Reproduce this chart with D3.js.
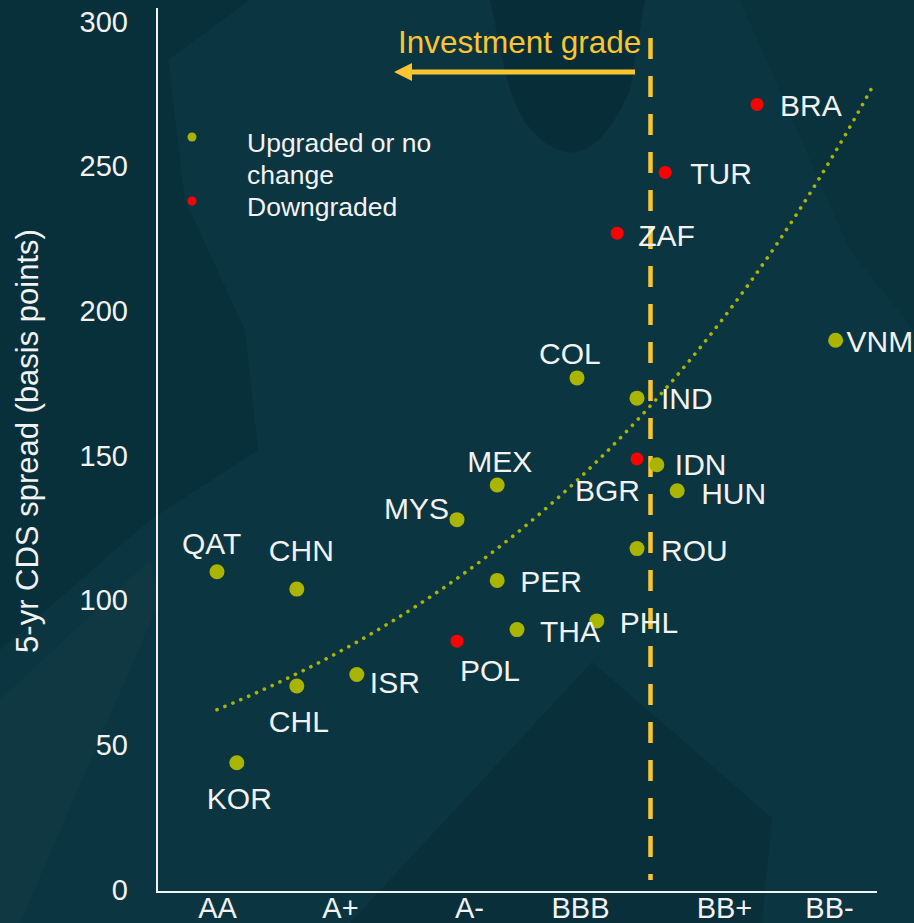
<!DOCTYPE html>
<html>
<head>
<meta charset="utf-8">
<script src="https://cdn.jsdelivr.net/npm/d3@7"></script>
<style>
  html, body { margin: 0; padding: 0; background: #0b3540; }
  svg { display: block; }
</style>
</head>
<body>
<div id="chart"></div>
<script>
// rating scale: 0 = AA, one unit per notch (points sit on thirds = agency averages)
var countries   = ['QAT', 'KOR', 'CHN', 'CHL', 'ISR', 'MYS', 'POL', 'MEX', 'PER', 'THA', 'COL',
                   'PHL', 'ZAF', 'IND', 'BGR', 'ROU', 'IDN', 'TUR', 'HUN', 'BRA', 'VNM'];
var ratingScore = [0, 0.33, 1.33, 1.33, 2.33, 4, 4, 4.67, 4.67, 5, 6,
                   6.33, 6.67, 7, 7, 7, 7.33, 7.47, 7.67, 9, 10.31];
var cdsSpread   = [110, 44, 104, 70.5, 74.5, 128, 86, 140, 107, 90, 177,
                   93, 227, 170, 149, 118, 147, 248, 138, 271.5, 190];
var downgraded  = [false, false, false, false, false, false, true, false, false, false, false,
                   false, true, false, true, false, false, true, false, true, false];

var ratingLabels = ['AA', 'A+', 'A-', 'BBB', 'BB+', 'BB-'];
var ratingTicks  = [0, 2.05, 4.2, 6.05, 8.45, 10.2];
var spreadTicks  = [0, 50, 100, 150, 200, 250, 300];

// exponential trendline: y = a * exp(b * x)
var trendA = 62.3, trendB = 0.1368, trendRange = [0, 10.95];
var igBoundary = 7.225; // BBB- / BB+ line

// label offsets (text start / baseline relative to the dot)
var labelOffset = {
    QAT: [-35, -18], KOR: [-30, 46], CHN: [-28, -28], CHL: [-28, 46], ISR: [13, 19],
    MYS: [-73, -1], POL: [3, 40], MEX: [-30, -13], PER: [23, 12], THA: [23, 12],
    COL: [-38, -14], PHL: [23, 12], ZAF: [21, 13], IND: [24, 11], BGR: [-62, 42],
    ROU: [24, 12], IDN: [18, 10], TUR: [25, 12], HUN: [24, 13], BRA: [23, 12], VNM: [11, 12]
};

var width = 914, height = 923;
var green = '#a9b500', red = '#ff0000', gold = '#fac52f', ink = '#f2f2f2';
var font = 'Liberation Sans, Arial, sans-serif';

var svg = d3.select('#chart').append('svg')
    .attr('width', width)
    .attr('height', height);

// background (faint brush shapes)
svg.append('rect').attr('width', width).attr('height', height).attr('fill', '#0b3540');
var bg = svg.append('g').attr('fill', '#001f27');
bg.append('path').attr('d', 'M0,0 L250,0 L168,60 L185,200 L245,330 L258,450 L150,520 L0,650 Z').attr('opacity', 0.22);
bg.append('path').attr('d', 'M490,0 L645,0 L630,90 Q600,158 565,152 Q520,140 505,70 Z').attr('opacity', 0.3);
bg.append('path').attr('d', 'M592,662 L350,923 L762,923 L772,818 Z').attr('opacity', 0.25);
bg.append('path').attr('d', 'M740,0 L914,0 L914,330 L850,250 Z').attr('opacity', 0.15);
bg.append('path').attr('d', 'M0,700 L150,560 L160,600 L20,923 L0,923 Z').attr('fill', '#ffffff').attr('opacity', 0.02);

var x = d3.scaleLinear().domain([-1, 11]).range([157, 877]);
var y = d3.scaleLinear().domain([0, 300]).range([890, 22]);

// y axis labels
var yAxis = svg.append('g')
    .attr('transform', 'translate(128,0)')
    .call(d3.axisLeft(y).tickValues(spreadTicks).tickSize(0).tickPadding(0));
yAxis.select('.domain').remove();
yAxis.selectAll('text')
    .attr('fill', ink)
    .style('font-family', font)
    .style('font-size', '29px');

// x axis labels
var xAxis = svg.append('g')
    .attr('transform', 'translate(0,897)')
    .call(d3.axisBottom(x).tickValues(ratingTicks).tickFormat(function (d, i) { return ratingLabels[i]; })
        .tickSize(0).tickPadding(0));
xAxis.select('.domain').remove();
xAxis.selectAll('text')
    .attr('fill', ink)
    .attr('dy', '0.71em')
    .style('font-family', font)
    .style('font-size', '29px');

// axis lines
svg.append('line').attr('x1', 157).attr('x2', 157).attr('y1', 8).attr('y2', 892)
    .attr('stroke', ink).attr('stroke-width', 2);
svg.append('line').attr('x1', 156).attr('x2', x.range()[1]).attr('y1', 892).attr('y2', 892)
    .attr('stroke', ink).attr('stroke-width', 2);

// y title
svg.append('text')
    .attr('transform', 'translate(38,441) rotate(-90)')
    .attr('text-anchor', 'middle')
    .attr('fill', ink)
    .style('font-family', font)
    .style('font-size', '31px')
    .text('5-yr CDS spread (basis points)');

// trendline
var trendPts = d3.range(trendRange[0], trendRange[1] + 0.001, 0.05);
svg.append('path')
    .datum(trendPts)
    .attr('d', d3.line().x(function (d) { return x(d); }).y(function (d) { return y(trendA * Math.exp(trendB * d)); }))
    .attr('fill', 'none')
    .attr('stroke', green)
    .attr('stroke-width', 3.6)
    .attr('stroke-linecap', 'round')
    .attr('stroke-dasharray', '0.1 8.5');

// investment grade line + arrow
var igX = x(igBoundary);
svg.append('line')
    .attr('x1', igX).attr('x2', igX).attr('y1', 38).attr('y2', 880)
    .attr('stroke', gold).attr('stroke-width', 4.5)
    .attr('stroke-dasharray', '21 17');
svg.append('line')
    .attr('x1', 635).attr('x2', 408).attr('y1', 72).attr('y2', 72)
    .attr('stroke', gold).attr('stroke-width', 5);
svg.append('path')
    .attr('d', 'M394,72 L412,63 L412,81 Z')
    .attr('fill', gold);
svg.append('text')
    .attr('x', 398).attr('y', 53)
    .attr('fill', gold)
    .style('font-family', font)
    .style('font-size', '31.5px')
    .text('Investment grade');

// points
var points = countries.map(function (c, i) {
    return { name: c, score: ratingScore[i], spread: cdsSpread[i], down: downgraded[i] };
});

svg.append('g').selectAll('circle')
    .data(points)
    .join('circle')
    .attr('cx', function (d) { return x(d.score); })
    .attr('cy', function (d) { return y(d.spread); })
    .attr('r', function (d) { return d.down ? 6.5 : 7.5; })
    .attr('fill', function (d) { return d.down ? red : green; });

svg.append('g').selectAll('text')
    .data(points)
    .join('text')
    .attr('x', function (d) { return x(d.score) + labelOffset[d.name][0]; })
    .attr('y', function (d) { return y(d.spread) + labelOffset[d.name][1]; })
    .attr('fill', ink)
    .style('font-family', font)
    .style('font-size', '30px')
    .text(function (d) { return d.name; });

// legend
var legend = svg.append('g').style('font-family', font).style('font-size', '26.5px');
legend.append('circle').attr('cx', 192).attr('cy', 137).attr('r', 4.5).attr('fill', green);
legend.append('circle').attr('cx', 192).attr('cy', 201).attr('r', 4.5).attr('fill', red);
legend.append('text').attr('x', 247).attr('y', 152).attr('fill', ink).text('Upgraded or no');
legend.append('text').attr('x', 247).attr('y', 184).attr('fill', ink).text('change');
legend.append('text').attr('x', 247).attr('y', 216).attr('fill', ink).text('Downgraded');
</script>
</body>
</html>
